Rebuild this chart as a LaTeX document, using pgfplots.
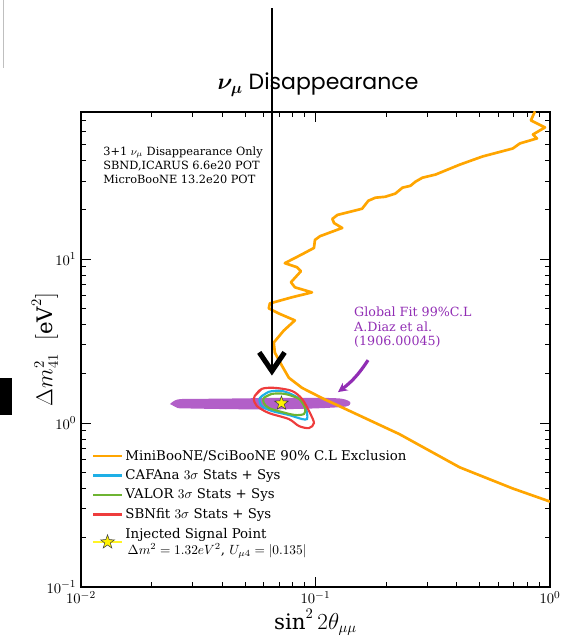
\documentclass[border=0pt]{standalone}
\usepackage{fontspec}
\setmainfont{DejaVu Serif}
\newfontfamily\poppins{Poppins}
\usepackage{bm}
\usepackage{pgfplots}
\pgfplotsset{compat=1.18}
\usetikzlibrary{arrows.meta}
\definecolor{mborange}{RGB}{255,165,0}
\definecolor{cafblue}{RGB}{30,175,230}
\definecolor{valgreen}{RGB}{110,180,50}
\definecolor{sbnred}{RGB}{238,60,60}
\definecolor{gfill}{RGB}{178,95,200}
\definecolor{gtext}{RGB}{145,45,180}
\pgfdeclareplotmark{fstar}{%
 \pgfpathmoveto{\pgfpointpolar{90}{\pgfplotmarksize}}%
 \pgfpathlineto{\pgfpointpolar{126}{0.4\pgfplotmarksize}}%
 \pgfpathlineto{\pgfpointpolar{162}{\pgfplotmarksize}}%
 \pgfpathlineto{\pgfpointpolar{198}{0.4\pgfplotmarksize}}%
 \pgfpathlineto{\pgfpointpolar{234}{\pgfplotmarksize}}%
 \pgfpathlineto{\pgfpointpolar{270}{0.4\pgfplotmarksize}}%
 \pgfpathlineto{\pgfpointpolar{306}{\pgfplotmarksize}}%
 \pgfpathlineto{\pgfpointpolar{342}{0.4\pgfplotmarksize}}%
 \pgfpathlineto{\pgfpointpolar{18}{\pgfplotmarksize}}%
 \pgfpathlineto{\pgfpointpolar{54}{0.4\pgfplotmarksize}}%
 \pgfpathclose
 \pgfusepathqfillstroke}
\begin{document}
\begin{tikzpicture}
\useasboundingbox (-60.75pt,-37.5pt) rectangle (369pt,440.25pt);
\draw[gray!50, line width=0.75pt] (-57.75pt,440.25pt) -- (-57.75pt,389.25pt);
\fill[black] (-60.75pt,129pt) rectangle (-51.75pt,156.75pt);
\begin{axis}[
  at={(0pt,0pt)}, anchor=south west,
  width=351.75pt, height=356.25pt, scale only axis,
  xmode=log, ymode=log,
  xmin=0.01, xmax=1, ymin=0.1, ymax=79,
  axis line style={line width=0.8pt},
  major tick length=7.5pt, minor tick length=3.75pt,
  every tick/.style={black, line width=0.6pt},
  tick label style={font=\fontsize{11}{12}\selectfont},
  xlabel={$\sin^2 2\theta_{\mu\mu}$},
  ylabel={$\Delta m^2_{41}\;\;[\mathrm{eV}^2]$},
  label style={font=\fontsize{16}{18}\selectfont},
  xlabel style={at={(axis description cs:0.5,-0.074)}, anchor=center},
  ylabel style={at={(axis description cs:-0.077,0.5)}, anchor=center},
  legend style={draw=none, fill=none, at={(0.015,0.30)}, anchor=north west,
    font=\fontsize{10}{12}\selectfont, cells={anchor=west, align=left}, row sep=1.6pt},
  legend image code/.code={\draw[mark repeat=2,mark phase=2, line width=1.8pt] plot coordinates {(0cm,0cm) (0.37cm,0cm) (0.74cm,0cm)};},
]
% Global fit band
\addplot[draw=none, fill=gfill, smooth, forget plot] coordinates {
(0.02396,1.306) (0.02592,1.395) (0.03218,1.405) (0.04764,1.414) (0.07058,1.425) (0.1045,1.425) (0.1272,1.412) (0.1376,1.372) (0.1410,1.324) (0.1349,1.262) (0.1045,1.232) (0.07058,1.214) (0.04764,1.214) (0.03218,1.224) (0.02592,1.232)};
% MiniBooNE/SciBooNE
\addplot[mborange, line width=2pt, line join=round] coordinates {
(0.863,79.8) (0.829,70.2) (0.952,63.6) (0.846,57.6) (0.880,54.5) (0.744,50.8) (0.694,47.3) (0.516,42.3) (0.412,37.7) (0.325,32.8) (0.286,31.4) (0.267,29.7) (0.254,28.0) (0.235,27.3) (0.219,25.1) (0.198,24.0) (0.180,23.7) (0.168,22.7) (0.158,20.3) (0.124,18.6) (0.118,17.6) (0.120,16.6) (0.130,15.5) (0.1045,13.8) (0.0995,13.1) (0.0985,11.7) (0.0876,10.7) (0.0740,9.45) (0.0833,8.93) (0.0867,8.44) (0.0786,7.23) (0.0817,6.73) (0.0966,6.27) (0.0793,5.85) (0.0639,5.37) (0.0632,5.01) (0.0698,4.66) (0.0817,4.23) (0.0733,3.67) (0.0664,3.10) (0.0671,2.69) (0.0719,2.24) (0.0770,1.89) (0.0876,1.64) (0.1088,1.40) (0.1177,1.33) (0.228,0.856) (0.412,0.537) (0.694,0.399) (1.0,0.332)};
\addlegendentry{MiniBooNE/SciBooNE 90\% C.L Exclusion}
% CAFAna
\addplot[cafblue, line width=1.6pt, smooth] coordinates {
(0.0579,1.423) (0.0632,1.550) (0.0719,1.571) (0.0817,1.464) (0.0893,1.327) (0.0920,1.152) (0.0920,1.058) (0.0876,1.058) (0.0770,1.120) (0.0651,1.185) (0.0590,1.271) (0.0579,1.423) (0.0632,1.550)};
\addlegendentry{CAFAna $3\sigma$ Stats + Sys}
% VALOR
\addplot[valgreen, line width=1.6pt, smooth] coordinates {
(0.0602,1.423) (0.0651,1.506) (0.0740,1.506) (0.0850,1.404) (0.0902,1.236) (0.0893,1.136) (0.0817,1.120) (0.0719,1.168) (0.0632,1.236) (0.0602,1.327) (0.0602,1.423) (0.0651,1.506)};
\addlegendentry{VALOR $3\sigma$ Stats + Sys}
% SBNfit
\addplot[sbnred, line width=1.6pt, smooth] coordinates {
(0.0551,1.464) (0.0590,1.617) (0.0671,1.640) (0.0793,1.571) (0.0876,1.404) (0.0947,1.152) (0.0985,1.000) (0.0938,0.932) (0.0850,0.959) (0.0770,1.058) (0.0632,1.152) (0.0562,1.271) (0.0545,1.404) (0.0551,1.464) (0.0590,1.617)};
\addlegendentry{SBNfit $3\sigma$ Stats + Sys}
% injected point
\addplot[yellow!85!white, line width=1pt, mark=fstar, mark size=5.5pt,
  mark options={fill=yellow, draw=black!75, line width=0.4pt}] coordinates {(0.0716,1.32)};
\addlegendentry{Injected Signal Point\\\,$\Delta m^2=1.32eV^2$, $U_{\mu 4}=|0.135|$}
\node[anchor=north west, align=left, font=\fontsize{8.5}{10.5}\selectfont, inner sep=0pt]
  at (rel axis cs:0.047,0.928) {3+1 $\nu_\mu$ Disappearance Only\\SBND,ICARUS 6.6e20 POT\\MicroBooNE 13.2e20 POT};
\node[anchor=north west, align=left, text=gtext, font=\fontsize{9.5}{11}\selectfont, inner sep=0pt]
  at (rel axis cs:0.582,0.59) {Global Fit 99\%C.L\\A.Diaz et al.\\(1906.00045)};
\draw[gtext, line width=2.4pt, -{Stealth[length=7pt,width=7pt]}] (axis cs:0.1675,2.42) to[bend left=10] (axis cs:0.1247,1.545);
\coordinate (arrtop) at (axis cs:0.0652,339);
\coordinate (arrtip) at (axis cs:0.0652,1.963);
\end{axis}
\node[anchor=base, inner sep=0pt, font=\poppins\fontsize{16.5}{18}\selectfont] at (177.75pt,372.75pt) {$\bm{\nu_{\mu}}$ Disappearance};
\draw[line width=1.5pt] (arrtop) -- ([yshift=3pt]arrtip);
\draw[line width=3.8pt, line join=miter] ([yshift=3pt]arrtip) ++(-9.5pt,14pt) -- ++(9.5pt,-14pt) -- ++(9.5pt,14pt);
\end{tikzpicture}
\end{document}
